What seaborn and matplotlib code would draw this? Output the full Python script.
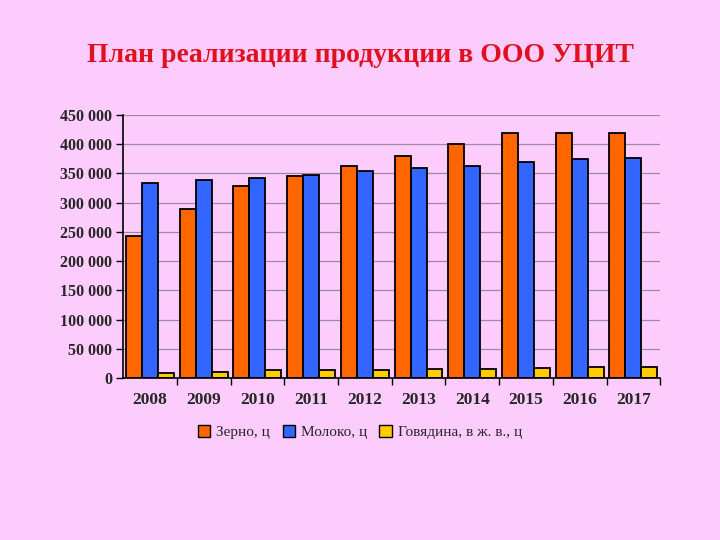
import matplotlib
matplotlib.use("Agg")
import matplotlib.pyplot as plt
import seaborn as sns
import pandas as pd
from matplotlib.ticker import FuncFormatter, FixedLocator
from matplotlib.patches import Patch

years = ["2008", "2009", "2010", "2011", "2012", "2013", "2014", "2015", "2016", "2017"]
grain = [243000, 290000, 329000, 345000, 363000, 380000, 400000, 420000, 420000, 420000]
milk = [334000, 339000, 343000, 348000, 355000, 360000, 363000, 369000, 375000, 376000]
beef = [9000, 11000, 13000, 14000, 14000, 15000, 15000, 17000, 18000, 18000]
series_names = ["Зерно, ц", "Молоко, ц", "Говядина, в ж. в., ц"]
colors = ["#FF6600", "#3366FF", "#FFCC00"]
title = "План реализации продукции в ООО УЦИТ"

rows = []
for name, vals in zip(series_names, [grain, milk, beef]):
    for y, v in zip(years, vals):
        rows.append({"year": y, "series": name, "value": v})
df = pd.DataFrame(rows)

bg = "#FCCCFC"
sns.set_theme(style="white")
plt.rcParams["font.family"] = ["Liberation Serif", "DejaVu Serif"]

fig = plt.figure(figsize=(7.2, 5.4), dpi=100)
fig.patch.set_facecolor(bg)
ax = fig.add_axes([0.171, 0.30, 0.746, 0.487])
ax.set_facecolor(bg)

sns.barplot(data=df, x="year", y="value", hue="series", palette=colors,
            width=0.89, edgecolor="black", linewidth=1.3, saturation=1,
            ax=ax, legend=False, gap=0)

ax.set_ylim(0, 450000)
ax.set_xlim(-0.5, len(years) - 0.5)
ax.yaxis.set_major_locator(FixedLocator(list(range(0, 450001, 50000))))
ax.yaxis.set_major_formatter(FuncFormatter(lambda v, p: f"{int(v):,}".replace(",", " ")))
ax.grid(axis="y", color="#9E8A9E", linewidth=0.9)
ax.set_axisbelow(True)

for s in ["top", "right"]:
    ax.spines[s].set_visible(False)
for s in ["left", "bottom"]:
    ax.spines[s].set_color("black")
    ax.spines[s].set_linewidth(1.2)

ax.set_xlabel("")
ax.set_ylabel("")
ax.tick_params(axis="y", which="major", length=5, width=1, color="black",
               labelsize=11.5, pad=3, left=True)
ax.tick_params(axis="x", which="major", length=0, labelsize=12.5, pad=10)
ax.set_xticks(range(len(years)))
ax.set_xticklabels(years)
ax.set_xticks([i - 0.5 for i in range(1, len(years) + 1)], minor=True)
ax.tick_params(axis="x", which="minor", length=5, width=1, color="black", bottom=True)
for lbl in ax.get_xticklabels() + ax.get_yticklabels():
    lbl.set_fontweight("bold")

fig.text(0.5, 0.898, title, ha="center", va="center", color="#E0101E",
         fontsize=20, fontweight="bold")

handles = [Patch(facecolor=c, edgecolor="black", linewidth=1) for c in colors]
fig.legend(handles, series_names, loc="center", bbox_to_anchor=(0.5, 0.2),
           ncol=3, frameon=False, fontsize=11, handlelength=0.8, handleheight=0.8,
           handletextpad=0.4, columnspacing=0.8)

fig.savefig("out.png", dpi=100, facecolor=bg)
